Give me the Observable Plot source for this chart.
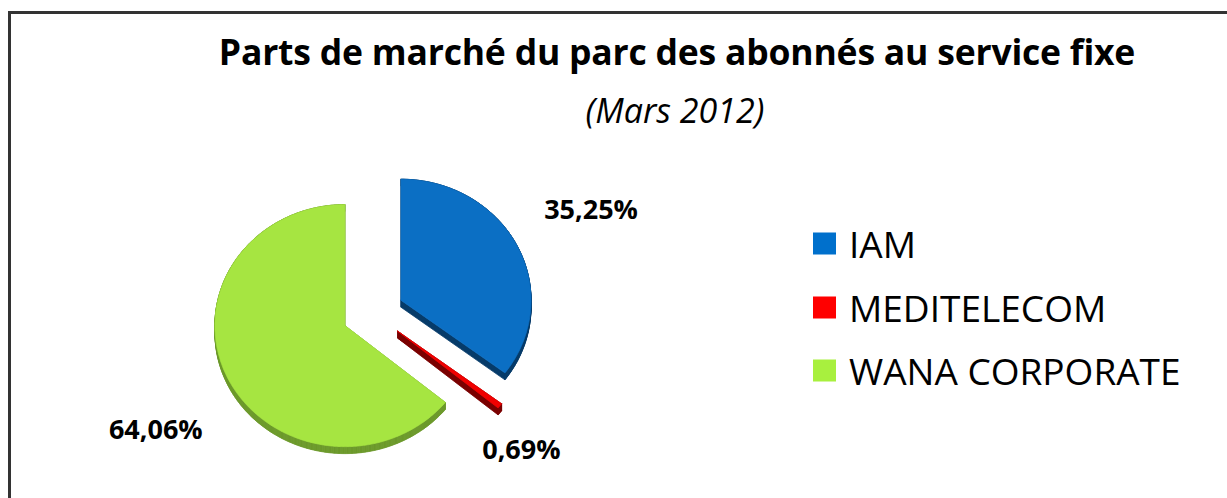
<!DOCTYPE html>
<html>
<head>
<meta charset="utf-8">
<script src="https://cdn.jsdelivr.net/npm/d3@7"></script>
<script src="https://cdn.jsdelivr.net/npm/@observablehq/plot@0.6"></script>
<style>
  html, body { margin: 0; padding: 0; background: #fff; }
  #wrap { position: relative; width: 1227px; height: 498px; overflow: hidden; font-family: "Open Sans", sans-serif; }
  #frame { position: absolute; left: 8px; top: 11px; width: 1240px; height: 520px; border-left: 3px solid #333; border-top: 3px solid #333; box-sizing: border-box; }
  .abs { position: absolute; white-space: nowrap; line-height: 1; transform: translate(-50%, -50%); }
  #title { left: 677px; top: 52px; font-weight: 700; font-size: 35.5px; letter-spacing: -0.2px; color: #000; }
  #subtitle { left: 675px; top: 110px; font-style: italic; font-size: 34px; color: #000; }
  #legend { position: absolute; left: 813px; top: 0; }
  .item { position: absolute; left: 0; display: flex; align-items: center; white-space: nowrap; transform: translateY(-50%); }
  .sw { width: 23px; height: 22px; margin-right: 13px; flex: none; }
  .lt { font-size: 37px; color: #000; line-height: 1; }
  #chart { position: absolute; left: 0; top: 0; }
</style>
</head>
<body>
<div id="wrap">
  <div id="chart"></div>
  <div id="frame"></div>
  <div id="title" class="abs">Parts de marché du parc des abonnés au service fixe</div>
  <div id="subtitle" class="abs">(Mars 2012)</div>
  <div id="legend"></div>
</div>
<script>
// ---- data ----
const names = ["IAM", "MEDITELECOM", "WANA CORPORATE"];
const shares = [35.25, 0.69, 64.06];
const shareLabels = ["35,25%", "0,69%", "64,06%"];
const faceColors = ["#0b6fc4", "#f00000", "#a6e541"];
const sideColors = ["#063b69", "#7a0000", "#6c992b"];
const legendColors = ["#0070cc", "#ff0000", "#a8f03e"];

// ---- geometry (unit pie, exploded, with extruded depth) ----
const W = 1227, H = 498;
const CX = 372.6, CY = 312.7, RX = 130, RY = 121;
const EXPLODE = 0.24, DEPTH = 7 / RY;
const arcs = d3.pie().sort(null).startAngle(0).endAngle(2 * Math.PI)(shares);

const tops = [];
const sides = [];
arcs.forEach((a, i) => {
  const mid = (a.startAngle + a.endAngle) / 2;
  const ox = EXPLODE * Math.sin(mid), oy = EXPLODE * Math.cos(mid);
  const n = Math.max(4, Math.ceil((a.endAngle - a.startAngle) / 0.01));
  const poly = [[ox, oy]];
  for (let k = 0; k <= n; k++) {
    const t = a.startAngle + (a.endAngle - a.startAngle) * k / n;
    poly.push([ox + Math.sin(t), oy + Math.cos(t)]);
  }
  poly.push([ox, oy]);
  const topKey = "top-" + names[i];
  poly.forEach(([u, v]) => tops.push({key: topKey, name: names[i], u, v}));
  // side walls: extrude every edge downward
  for (let k = 0; k < poly.length - 1; k++) {
    const [p, q] = [poly[k], poly[k + 1]];
    const key = "side-" + names[i] + "-" + k;
    const ck = "side-" + names[i];
    sides.push({key, ck, u: p[0], v: p[1]});
    sides.push({key, ck, u: q[0], v: q[1]});
    sides.push({key, ck, u: q[0], v: q[1] - DEPTH});
    sides.push({key, ck, u: p[0], v: p[1] - DEPTH});
    sides.push({key, ck, u: p[0], v: p[1]});
  }
});

// label positions: along mid-angle, with small nudges (px)
const LABEL_R = 1.9;
const nudges = [[-3, 0], [-46, -5], [6, 19]];
const labels = arcs.map((a, i) => {
  const mid = (a.startAngle + a.endAngle) / 2;
  return {
    text: shareLabels[i],
    u: LABEL_R * Math.sin(mid) + nudges[i][0] / RX,
    v: LABEL_R * Math.cos(mid) - nudges[i][1] / RY
  };
});

const xDomain = [(0 - CX) / RX, (W - CX) / RX];
const yDomain = [(CY - H) / RY, (CY - 0) / RY];

const keys = [...names.map(n => "side-" + n), ...names.map(n => "top-" + n)];
const keyColors = [...sideColors, ...faceColors];

const plot = Plot.plot({
  width: W, height: H,
  margin: 0,
  x: {domain: xDomain, range: [0, W], axis: null},
  y: {domain: yDomain, range: [H, 0], axis: null},
  color: {domain: keys, range: keyColors},
  marks: [
    Plot.line(sides, {x: "u", y: "v", z: "key", fill: "ck", stroke: "ck", strokeWidth: 0.8}),
    Plot.line(tops, {x: "u", y: "v", z: "key", fill: "key", stroke: "key", strokeWidth: 0.8}),
    Plot.text(labels, {x: "u", y: "v", text: "text", fontSize: 27, fontWeight: 700, fill: "#000", fontFamily: "Open Sans"})
  ]
});
document.getElementById("chart").appendChild(plot);

// ---- legend ----
const legend = document.getElementById("legend");
const legendY = [243, 307, 370];
names.forEach((n, i) => {
  const it = document.createElement("div");
  it.className = "item";
  it.style.top = legendY[i] + "px";
  it.innerHTML = `<div class="sw" style="background:${legendColors[i]}"></div><span class="lt">${n}</span>`;
  legend.appendChild(it);
});
</script>
</body>
</html>
